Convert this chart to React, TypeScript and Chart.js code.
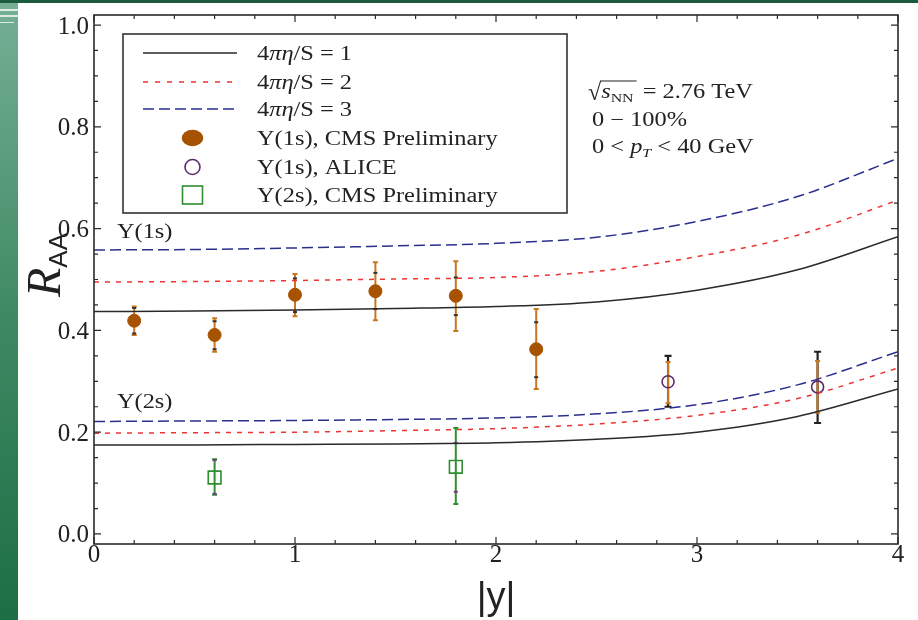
import React, { useEffect, useRef } from "react";
import { Chart, registerables } from "chart.js";

Chart.register(...registerables);

// ---------- data ----------
const curveX = [0, 0.5, 1, 1.5, 2, 2.5, 3, 3.5, 4];
// Upsilon(1s) model curves
const u1sEta1 = [0.437, 0.438, 0.44, 0.443, 0.447, 0.456, 0.479, 0.519, 0.584];
const u1sEta2 = [0.495, 0.496, 0.498, 0.501, 0.504, 0.516, 0.545, 0.587, 0.656];
const u1sEta3 = [0.558, 0.559, 0.562, 0.566, 0.571, 0.583, 0.614, 0.663, 0.738];
// Upsilon(2s) model curves
const u2sEta1 = [0.175, 0.175, 0.176, 0.177, 0.179, 0.186, 0.2, 0.231, 0.285];
const u2sEta2 = [0.198, 0.199, 0.2, 0.203, 0.207, 0.216, 0.233, 0.266, 0.326];
const u2sEta3 = [0.221, 0.222, 0.223, 0.225, 0.228, 0.236, 0.254, 0.293, 0.358];

// CMS preliminary Y(1s)
const cms1sY = [0.2, 0.6, 1.0, 1.4, 1.8, 2.2];
const cms1sR = [0.419, 0.391, 0.47, 0.477, 0.468, 0.363];
const cms1sSysLo = [0.391, 0.358, 0.428, 0.42, 0.399, 0.285];
const cms1sSysHi = [0.447, 0.424, 0.511, 0.534, 0.536, 0.442];
const cms1sStatLo = [0.394, 0.363, 0.436, 0.442, 0.43, 0.308];
const cms1sStatHi = [0.444, 0.418, 0.502, 0.513, 0.504, 0.416];

// ALICE Y(1s)
const aliceY = [2.856, 3.6];
const aliceR = [0.299, 0.289];
const aliceTotLo = [0.25, 0.218];
const aliceTotHi = [0.35, 0.358];
const aliceSysLo = [0.257, 0.238];
const aliceSysHi = [0.338, 0.34];

// CMS preliminary Y(2s)
const cms2sY = [0.6, 1.8];
const cms2sR = [0.111, 0.132];
const cms2sSysLo = [0.077, 0.059];
const cms2sSysHi = [0.147, 0.208];
const cms2sStatLo = [0.079, 0.083];
const cms2sStatHi = [0.145, 0.179];

const xMajor = [0, 1, 2, 3, 4];
const yMajor = [0, 0.2, 0.4, 0.6, 0.8, 1.0];
const xMinorStep = 0.2;
const yMinorStep = 0.05;

const legendLabels = [
  "4πη/S = 1",
  "4πη/S = 2",
  "4πη/S = 3",
  "Υ(1s), CMS Preliminary",
  "Υ(1s), ALICE",
  "Υ(2s), CMS Preliminary",
];
const infoLines = ["√sNN = 2.76 TeV", "0 − 100%", "0 < pT < 40 GeV"];
const curveLabels = ["Υ(1s)", "Υ(2s)"];

// ---------- styles ----------
const SERIF = '"Liberation Serif", "Times New Roman", serif';
const SANS = '"Liberation Sans", Arial, sans-serif';
const STRETCH = 1.22;
const C_BLACK = "#2a2a2a";
const C_RED = "#ee3333";
const C_BLUE = "#2a2f8f";
const C_BROWN = "#a65200";
const C_ORANGE = "#c9761e";
const C_PURPLE = "#5b2b6e";
const C_GREEN = "#2f8f2f";
const TEXT = "#222";

type Seg = { t: string; it?: boolean; s?: number; dy?: number; sans?: boolean };

function drawRich(ctx: CanvasRenderingContext2D, x: number, y: number, segs: Seg[], base = 20, stretch = STRETCH) {
  ctx.save();
  ctx.translate(x, y);
  ctx.scale(stretch, 1);
  ctx.textAlign = "left";
  ctx.textBaseline = "alphabetic";
  ctx.fillStyle = TEXT;
  let cx = 0;
  for (const sg of segs) {
    const size = sg.s ?? base;
    ctx.font = `${sg.it ? "italic " : ""}${size}px ${sg.sans ? SANS : SERIF}`;
    ctx.fillText(sg.t, cx, sg.dy ?? 0);
    cx += ctx.measureText(sg.t).width;
  }
  ctx.restore();
  return cx * stretch;
}

function etaSegs(label: string): Seg[] {
  // "4πη/S = n"
  return [{ t: label.slice(0, 1) }, { t: label.slice(1, 3), it: true }, { t: label.slice(3) }];
}

const lineDs = (ys: number[], color: string, dash: number[]) => ({
  type: "line" as const,
  data: curveX.map((x, i) => ({ x, y: ys[i] })),
  borderColor: color,
  borderWidth: 1.5,
  borderDash: dash,
  pointRadius: 0,
  fill: false,
  cubicInterpolationMode: "monotone" as const,
});

const decorPlugin = {
  id: "decor",
  beforeDraw(chart: any) {
    const ctx: CanvasRenderingContext2D = chart.ctx;
    const W = chart.width;
    const H = chart.height;
    ctx.save();
    ctx.fillStyle = "#ffffff";
    ctx.fillRect(0, 0, W, H);
    const g = ctx.createLinearGradient(0, 0, 0, H);
    g.addColorStop(0, "#76b096");
    g.addColorStop(0.5, "#3f8a64");
    g.addColorStop(1, "#1d6e45");
    ctx.fillStyle = g;
    ctx.fillRect(0, 0, 18, H);
    ctx.fillStyle = "#1b5a3b";
    ctx.fillRect(0, 0, W, 3);
    ctx.fillStyle = "rgba(255,255,255,0.75)";
    ctx.fillRect(0, 9, 18, 2);
    ctx.fillRect(0, 15, 18, 2);
    ctx.fillRect(0, 22, 14, 1);
    ctx.restore();
  },
  beforeDatasetsDraw(chart: any) {
    const ctx: CanvasRenderingContext2D = chart.ctx;
    const xs = chart.scales.x;
    const ys = chart.scales.y;
    const bar = (xv: number, lo: number, hi: number, color: string, cap: number, w = 1.5) => {
      const px = xs.getPixelForValue(xv);
      const p1 = ys.getPixelForValue(lo);
      const p2 = ys.getPixelForValue(hi);
      ctx.strokeStyle = color;
      ctx.lineWidth = w;
      ctx.beginPath();
      ctx.moveTo(px, p1);
      ctx.lineTo(px, p2);
      ctx.moveTo(px - cap, p1);
      ctx.lineTo(px + cap, p1);
      ctx.moveTo(px - cap, p2);
      ctx.lineTo(px + cap, p2);
      ctx.stroke();
    };
    const tick = (xv: number, v: number, color: string) => {
      const px = xs.getPixelForValue(xv);
      const py = ys.getPixelForValue(v);
      ctx.fillStyle = color;
      ctx.fillRect(px - 2, py - 1, 4, 2);
    };
    ctx.save();
    cms1sY.forEach((x, i) => {
      bar(x, cms1sSysLo[i], cms1sSysHi[i], C_ORANGE, 2.5, 2);
      tick(x, cms1sStatLo[i], "#333");
      tick(x, cms1sStatHi[i], "#333");
    });
    aliceY.forEach((x, i) => {
      bar(x, aliceTotLo[i], aliceTotHi[i], "#222", 3.5, 2.2);
      bar(x, aliceSysLo[i], aliceSysHi[i], C_ORANGE, 2.5, 2);
    });
    cms2sY.forEach((x, i) => {
      bar(x, cms2sSysLo[i], cms2sSysHi[i], C_GREEN, 2.5, 2);
      tick(x, cms2sStatLo[i], "#7a3a8a");
      tick(x, cms2sStatHi[i], "#7a3a8a");
    });
    ctx.restore();
  },
  afterDatasetsDraw(chart: any) {
    const ctx: CanvasRenderingContext2D = chart.ctx;
    const { left, right, top, bottom } = chart.chartArea;
    const xs = chart.scales.x;
    const ys = chart.scales.y;
    ctx.save();

    // frame
    ctx.strokeStyle = C_BLACK;
    ctx.lineWidth = 1.6;
    ctx.strokeRect(left, top, right - left, bottom - top);

    // ticks
    ctx.lineWidth = 1.2;
    ctx.beginPath();
    for (let v = 0; v <= 4.0001; v += xMinorStep) {
      const major = xMajor.some((m) => Math.abs(m - v) < 1e-6);
      const len = major ? 7 : 4;
      const px = xs.getPixelForValue(v);
      ctx.moveTo(px, bottom);
      ctx.lineTo(px, bottom - len);
      ctx.moveTo(px, top);
      ctx.lineTo(px, top + len);
    }
    for (let v = 0; v <= 1.0001; v += yMinorStep) {
      const major = yMajor.some((m) => Math.abs(m - v) < 1e-6);
      const len = major ? 7 : 4;
      const py = ys.getPixelForValue(v);
      ctx.moveTo(left, py);
      ctx.lineTo(left + len, py);
      ctx.moveTo(right, py);
      ctx.lineTo(right - len, py);
    }
    ctx.stroke();

    // tick labels
    ctx.fillStyle = TEXT;
    ctx.font = `25px ${SERIF}`;
    ctx.textBaseline = "alphabetic";
    ctx.textAlign = "right";
    yMajor.forEach((v) => {
      ctx.fillText(v.toFixed(1), left - 5, ys.getPixelForValue(v) + 8.5);
    });
    ctx.textAlign = "center";
    xMajor.forEach((v) => {
      ctx.fillText(String(v), xs.getPixelForValue(v), bottom + 18);
    });

    // x title |y|
    ctx.font = `38px ${SANS}`;
    ctx.fillText("|y|", (left + right) / 2, 609);

    // y title R_AA (rotated)
    ctx.save();
    ctx.translate(60, 265);
    ctx.rotate(-Math.PI / 2);
    ctx.textAlign = "left";
    ctx.font = `italic 48px ${SERIF}`;
    const wR = ctx.measureText("R").width;
    ctx.font = `26px ${SANS}`;
    const wAA = ctx.measureText("AA").width;
    const start = -(wR + wAA) / 2;
    ctx.font = `italic 48px ${SERIF}`;
    ctx.fillText("R", start, 0);
    ctx.font = `26px ${SANS}`;
    ctx.fillText("AA", start + wR, 7);
    ctx.restore();

    // curve labels
    drawRich(ctx, xs.getPixelForValue(0.114), ys.getPixelForValue(0.581), [{ t: curveLabels[0] }]);
    drawRich(ctx, xs.getPixelForValue(0.114), ys.getPixelForValue(0.2475), [{ t: curveLabels[1] }]);

    // legend box
    const lx = left + 29;
    const ly = top + 19;
    const lw = 444;
    const lh = 179;
    ctx.fillStyle = "#fff";
    ctx.fillRect(lx, ly, lw, lh);
    ctx.strokeStyle = "#333";
    ctx.lineWidth = 1.6;
    ctx.strokeRect(lx, ly, lw, lh);
    const rowY = [53, 82, 109, 138, 167, 195].map((r) => r - 15 + top);
    const sx0 = lx + 20;
    const sx1 = lx + 114;
    const mx = lx + 69.5;
    const tx = lx + 134;
    const lineStyles: [string, number[]][] = [
      [C_BLACK, []],
      [C_RED, [5, 7]],
      [C_BLUE, [11, 5]],
    ];
    lineStyles.forEach(([c, d], i) => {
      ctx.strokeStyle = c;
      ctx.lineWidth = 1.5;
      ctx.setLineDash(d);
      ctx.beginPath();
      ctx.moveTo(sx0, rowY[i]);
      ctx.lineTo(sx1, rowY[i]);
      ctx.stroke();
    });
    ctx.setLineDash([]);
    // filled ellipse
    ctx.fillStyle = C_BROWN;
    ctx.beginPath();
    ctx.ellipse(mx, rowY[3], 10.8, 8.3, 0, 0, Math.PI * 2);
    ctx.fill();
    // open circle
    ctx.strokeStyle = C_PURPLE;
    ctx.lineWidth = 1.6;
    ctx.beginPath();
    ctx.ellipse(mx, rowY[4], 7.5, 7.5, 0, 0, Math.PI * 2);
    ctx.stroke();
    // open square
    ctx.strokeStyle = C_GREEN;
    ctx.strokeRect(mx - 10, rowY[5] - 9, 20, 18);

    legendLabels.forEach((lab, i) => {
      const segs = i < 3 ? etaSegs(lab) : [{ t: lab }];
      drawRich(ctx, tx, rowY[i] + 7, segs);
    });

    // info text
    const ix = left + 494;
    const b1 = 98;
    let cx = ix;
    cx += drawRich(ctx, cx, b1 + 2, [{ t: "√", s: 24 }], 20, 1.0);
    const ovStart = cx - 1;
    cx += drawRich(ctx, cx, b1, [{ t: "s", it: true }, { t: "NN", s: 13, dy: 4 }]);
    ctx.strokeStyle = TEXT;
    ctx.lineWidth = 1.2;
    ctx.beginPath();
    ctx.moveTo(ovStart, b1 - 17);
    ctx.lineTo(cx + 3, b1 - 17);
    ctx.stroke();
    drawRich(ctx, cx + 3, b1, [{ t: infoLines[0].slice(4) }]);
    drawRich(ctx, ix + 4, 126, [{ t: infoLines[1] }]);
    drawRich(ctx, ix + 4, 153, [
      { t: "0 < " },
      { t: "p", it: true },
      { t: "T", it: true, s: 13, dy: 4 },
      { t: " < 40 GeV" },
    ]);

    ctx.restore();
  },
};

export default function App() {
  const ref = useRef<HTMLCanvasElement | null>(null);

  useEffect(() => {
    if (!ref.current) return;
    const chart = new Chart(ref.current, {
      type: "scatter",
      data: {
        datasets: [
          lineDs(u1sEta1, C_BLACK, []),
          lineDs(u1sEta2, C_RED, [5, 6]),
          lineDs(u1sEta3, C_BLUE, [11, 5]),
          lineDs(u2sEta1, C_BLACK, []),
          lineDs(u2sEta2, C_RED, [5, 6]),
          lineDs(u2sEta3, C_BLUE, [11, 5]),
          {
            type: "scatter",
            data: cms1sY.map((x, i) => ({ x, y: cms1sR[i] })),
            pointRadius: 6.5,
            pointStyle: "circle",
            backgroundColor: C_BROWN,
            borderColor: C_BROWN,
            borderWidth: 1,
          },
          {
            type: "scatter",
            data: aliceY.map((x, i) => ({ x, y: aliceR[i] })),
            pointRadius: 6,
            pointStyle: "circle",
            backgroundColor: "rgba(0,0,0,0)",
            borderColor: C_PURPLE,
            borderWidth: 1.6,
          },
          {
            type: "scatter",
            data: cms2sY.map((x, i) => ({ x, y: cms2sR[i] })),
            pointRadius: 9,
            pointStyle: "rect",
            backgroundColor: "rgba(0,0,0,0)",
            borderColor: C_GREEN,
            borderWidth: 1.6,
          },
        ] as any,
      },
      options: {
        animation: false,
        responsive: false,
        maintainAspectRatio: false,
        events: [],
        layout: { padding: { left: 0, right: 20, top: 15, bottom: 0 } },
        plugins: { legend: { display: false }, tooltip: { enabled: false } },
        scales: {
          x: {
            type: "linear",
            min: 0,
            max: 4,
            grid: { display: false },
            border: { display: false },
            ticks: { display: false },
            afterFit: (s: any) => {
              s.height = 76;
            },
          },
          y: {
            type: "linear",
            min: -0.0197,
            max: 1.0197,
            grid: { display: false },
            border: { display: false },
            ticks: { display: false },
            afterFit: (s: any) => {
              s.width = 94;
            },
          },
        },
      } as any,
      plugins: [decorPlugin],
    });
    return () => chart.destroy();
  }, []);

  return (
    <div style={{ position: "fixed", left: 0, top: 0, width: 918, height: 620, background: "#fff" }}>
      <canvas ref={ref} width={918} height={620} style={{ display: "block", width: 918, height: 620 }} />
    </div>
  );
}
